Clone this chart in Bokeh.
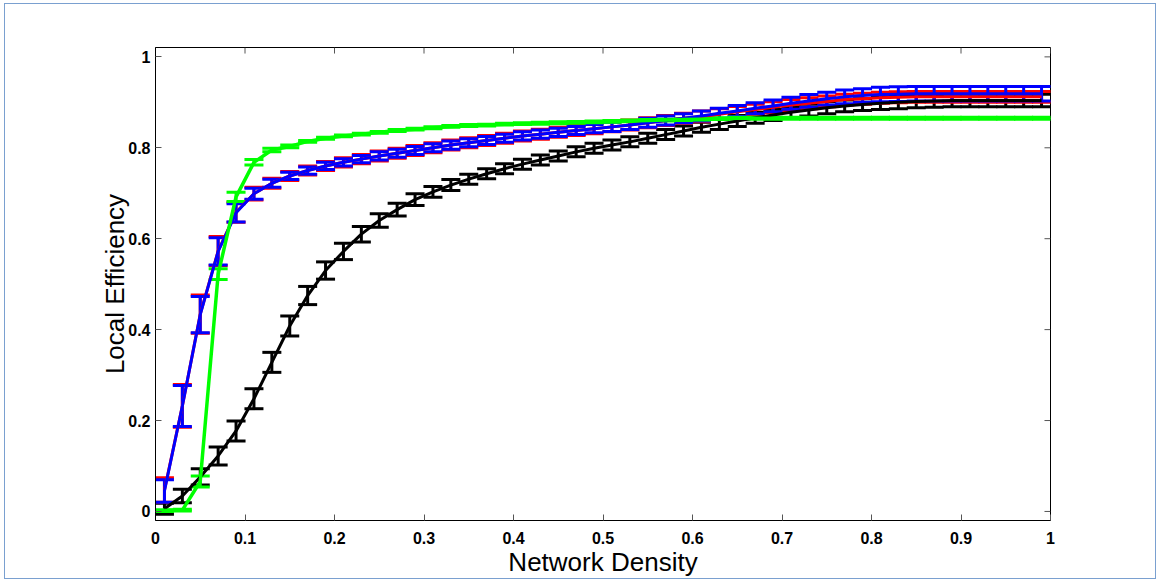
from bokeh.plotting import figure
from bokeh.models import (ColumnDataSource, Whisker, TeeHead, FixedTicker, Range1d)
from bokeh.embed import file_html
from bokeh.resources import INLINE

# ---------------- data ----------------
density = [0.01, 0.03, 0.05, 0.07, 0.09, 0.11, 0.13, 0.15, 0.17, 0.19,
           0.21, 0.23, 0.25, 0.27, 0.29, 0.31, 0.33, 0.35, 0.37, 0.39,
           0.41, 0.43, 0.45, 0.47, 0.49, 0.51, 0.53, 0.55, 0.57, 0.59,
           0.61, 0.63, 0.65, 0.67, 0.69, 0.71, 0.73, 0.75, 0.77, 0.79,
           0.81, 0.83, 0.85, 0.87, 0.89, 0.91, 0.93, 0.95, 0.97, 0.99]

black_mean = [0.006, 0.034, 0.076, 0.122, 0.177, 0.248, 0.328, 0.408, 0.475, 0.530,
              0.572, 0.610, 0.640, 0.664, 0.686, 0.703, 0.718, 0.731, 0.743, 0.754,
              0.764, 0.773, 0.782, 0.791, 0.799, 0.806, 0.813, 0.821, 0.829, 0.837,
              0.845, 0.852, 0.859, 0.866, 0.872, 0.878, 0.883, 0.888, 0.892, 0.895,
              0.898, 0.900, 0.902, 0.903, 0.904, 0.904, 0.904, 0.904, 0.904, 0.904]
black_err = [0.012, 0.015, 0.018, 0.020, 0.022, 0.022, 0.022, 0.022, 0.020, 0.019,
             0.018, 0.017, 0.015, 0.014, 0.013, 0.012, 0.012, 0.011, 0.011, 0.011,
             0.011, 0.011, 0.011, 0.011, 0.011, 0.011, 0.011, 0.011, 0.011, 0.011,
             0.011, 0.012, 0.012, 0.012, 0.012, 0.012, 0.013, 0.013, 0.013, 0.013,
             0.014, 0.014, 0.014, 0.014, 0.014, 0.014, 0.014, 0.014, 0.014, 0.014]

red_mean = [0.047, 0.232, 0.434, 0.573, 0.658, 0.699, 0.722, 0.738, 0.750, 0.760,
            0.768, 0.775, 0.782, 0.788, 0.794, 0.800, 0.806, 0.811, 0.816, 0.821,
            0.826, 0.830, 0.834, 0.838, 0.842, 0.846, 0.850, 0.855, 0.860, 0.865,
            0.869, 0.874, 0.879, 0.884, 0.889, 0.894, 0.898, 0.902, 0.906, 0.908,
            0.910, 0.911, 0.912, 0.912, 0.912, 0.912, 0.912, 0.912, 0.912, 0.912]
red_err = [0.027, 0.047, 0.042, 0.032, 0.022, 0.014, 0.011, 0.010, 0.010, 0.010,
           0.010, 0.010, 0.011, 0.011, 0.011, 0.011, 0.011, 0.011, 0.011, 0.011,
           0.011, 0.011, 0.011, 0.011, 0.011, 0.011, 0.011, 0.011, 0.011, 0.011,
           0.012, 0.012, 0.012, 0.012, 0.012, 0.012, 0.012, 0.012, 0.012, 0.012,
           0.012, 0.012, 0.012, 0.012, 0.012, 0.012, 0.012, 0.012, 0.012, 0.012]

blue_mean = [0.045, 0.232, 0.433, 0.572, 0.657, 0.699, 0.722, 0.738, 0.750, 0.760,
             0.768, 0.775, 0.782, 0.788, 0.794, 0.800, 0.806, 0.811, 0.816, 0.821,
             0.826, 0.830, 0.834, 0.838, 0.842, 0.846, 0.850, 0.855, 0.860, 0.865,
             0.870, 0.876, 0.881, 0.887, 0.892, 0.898, 0.903, 0.908, 0.912, 0.915,
             0.917, 0.918, 0.919, 0.919, 0.919, 0.919, 0.919, 0.919, 0.919, 0.919]
blue_err = [0.025, 0.045, 0.040, 0.030, 0.020, 0.012, 0.009, 0.008, 0.008, 0.008,
            0.008, 0.008, 0.009, 0.009, 0.009, 0.009, 0.009, 0.009, 0.009, 0.009,
            0.009, 0.009, 0.009, 0.009, 0.009, 0.010, 0.010, 0.010, 0.010, 0.010,
            0.011, 0.011, 0.012, 0.012, 0.013, 0.013, 0.014, 0.014, 0.015, 0.015,
            0.016, 0.016, 0.016, 0.016, 0.016, 0.016, 0.016, 0.016, 0.016, 0.016]

green_mean = [0.002, 0.003, 0.066, 0.522, 0.692, 0.768, 0.795, 0.803, 0.814, 0.821,
              0.826, 0.830, 0.834, 0.838, 0.841, 0.844, 0.847, 0.849, 0.850, 0.852,
              0.853, 0.854, 0.855, 0.856, 0.857, 0.858, 0.859, 0.860, 0.861, 0.862,
              0.863, 0.864, 0.865, 0.865, 0.865, 0.865, 0.865, 0.865, 0.865, 0.865,
              0.865, 0.865, 0.865, 0.865, 0.865, 0.865, 0.865, 0.865, 0.865, 0.865]
green_err = [0.002, 0.002, 0.012, 0.012, 0.010, 0.006, 0.004, 0.003, 0.002, 0.002,
             0.002, 0.002, 0.002, 0.002, 0.002, 0.002, 0.002, 0.002, 0.002, 0.002,
             0.002, 0.002, 0.002, 0.002, 0.002, 0.002, 0.002, 0.002, 0.002, 0.002,
             0.002, 0.002, 0.002, 0.002, 0.002, 0.002, 0.002, 0.002, 0.002, 0.002,
             0.002, 0.002, 0.002, 0.002, 0.002, 0.002, 0.002, 0.002, 0.002, 0.002]

x_ticks = [0, 0.1, 0.2, 0.3, 0.4, 0.5, 0.6, 0.7, 0.8, 0.9, 1]
y_ticks = [0, 0.2, 0.4, 0.6, 0.8, 1]

series = [
    ("#000000", black_mean, black_err),
    ("#ff0000", red_mean, red_err),
    ("#0000ff", blue_mean, blue_err),
    ("#00ff00", green_mean, green_err),
]

X0, X1 = 0.0, 1.0
Y0, Y1 = -0.0199, 1.0206

# ---------------- figure ----------------
p = figure(width=1152, height=576,
           x_range=Range1d(X0, X1), y_range=Range1d(Y0, Y1),
           output_backend="svg", toolbar_location=None,
           min_border_left=150, min_border_right=107,
           min_border_top=43, min_border_bottom=60)
p.styles = {"border": "1px solid #7aa0d0", "margin-left": "4px", "margin-top": "3px"}
p.background_fill_color = "white"
p.border_fill_color = "white"
p.outline_line_color = "black"
p.outline_line_width = 1
p.xgrid.grid_line_color = None
p.ygrid.grid_line_color = None

for color, mean, err in series:
    upper = [m + e for m, e in zip(mean, err)]
    lower = [m - e for m, e in zip(mean, err)]
    src = ColumnDataSource(dict(x=density, y=mean, upper=upper, lower=lower))
    p.line("x", "y", source=src, line_color=color,
           line_width=3.5 if color == "#00ff00" else 3)
    w = Whisker(source=src, base="x", upper="upper", lower="lower",
                dimension="height", line_color=color, line_width=3,
                upper_head=TeeHead(size=19, line_color=color, line_width=3),
                lower_head=TeeHead(size=19, line_color=color, line_width=3))
    p.add_layout(w)

# inward ticks on the top and right frame edges (no labels there)
tick_len_x = 6 / 893 * (X1 - X0)
tick_len_y = 6 / 470 * (Y1 - Y0)
p.segment(x0=x_ticks, x1=x_ticks, y0=[Y1] * len(x_ticks),
          y1=[Y1 - tick_len_y] * len(x_ticks), line_color="#555555", line_width=1)
p.segment(x0=[X1] * len(y_ticks), x1=[X1 - tick_len_x] * len(y_ticks),
          y0=y_ticks, y1=y_ticks, line_color="#555555", line_width=1)

FONT = "Liberation Sans"

def style_axis(ax):
    ax.major_tick_in = 6
    ax.major_tick_out = 0
    ax.minor_tick_in = 0
    ax.minor_tick_out = 0
    ax.major_tick_line_color = "#555555"
    ax.axis_line_color = "black"
    ax.major_label_text_font = FONT
    ax.major_label_text_font_style = "bold"
    ax.major_label_text_font_size = "16px"
    ax.major_label_text_color = "black"
    ax.axis_label_text_font = FONT
    ax.axis_label_text_font_style = "normal"
    ax.axis_label_text_font_size = "26px"
    ax.axis_label_text_color = "black"

xa = p.xaxis[0]
xa.ticker = FixedTicker(ticks=x_ticks)
xa.major_label_overrides = {0: "0", 1: "1"}
xa.axis_label = "Network Density"
style_axis(xa)
xa.major_label_standoff = 11
xa.axis_label_standoff = 0

ya = p.yaxis[0]
ya.ticker = FixedTicker(ticks=y_ticks)
ya.major_label_overrides = {0: "0", 1: "1"}
ya.axis_label = "Local Efficiency"
style_axis(ya)
ya.major_label_standoff = 5
ya.axis_label_standoff = -5

open("out.html", "w").write(file_html(p, INLINE))
